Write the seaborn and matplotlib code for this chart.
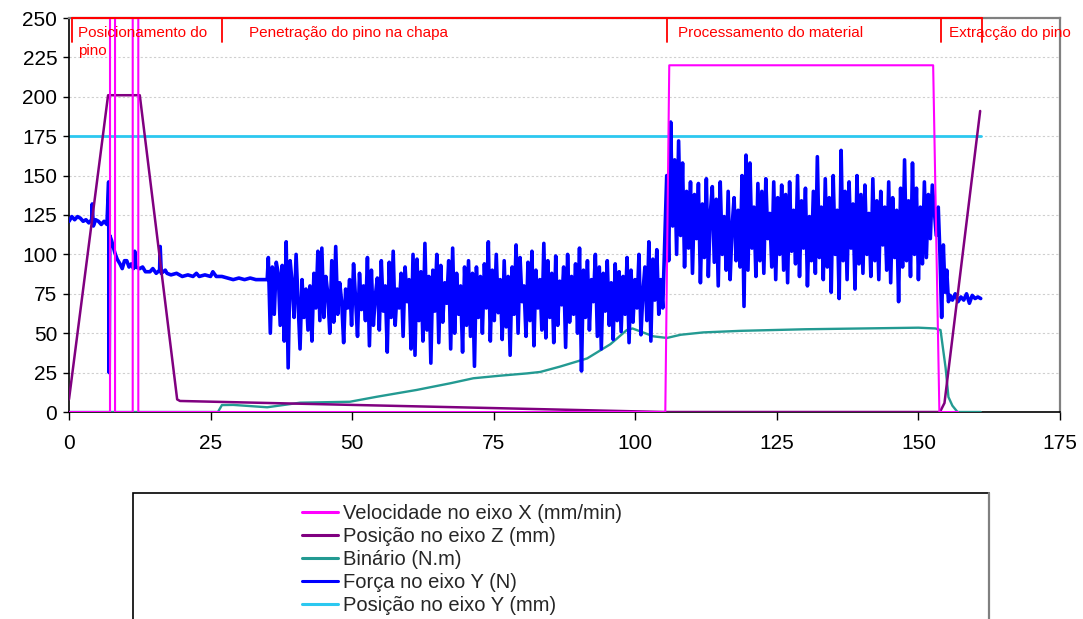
import numpy as np
import pandas as pd
import matplotlib
matplotlib.use("Agg")
import matplotlib.pyplot as plt
from matplotlib.patches import Rectangle
from matplotlib.lines import Line2D
import seaborn as sns

# ---------------- data ----------------
# Velocidade no eixo X (mm/min)
vel_t = [0, 7.24, 7.25, 8.12, 8.13, 11.25, 11.26, 12.23, 12.24, 105.3, 106.0, 152.6, 153.7, 157.0]
vel_v = [0, 0, 1000, 1000, 0, 0, 1000, 1000, 0, 0, 220, 220, 0, 0]

# Posição no eixo Z (mm)
posz_t = [0, 6.9, 12.5, 19.1, 19.6, 50, 76, 105, 153.8, 154.6, 160.9]
posz_v = [8, 201, 201, 8, 7, 4.5, 2.4, 0, 0, 5.7, 191]

# Binário (N.m)
bin_t = [0, 26.3, 27.0, 29.0, 35.0, 40.8, 49.6, 54.4, 61.4, 67.3, 71.4, 76.0, 80.9, 83.2,
         86.7, 91.5, 95.6, 98.5, 99.5, 101.0, 103.2, 105.6, 108.0, 112.0, 118.6, 130.0,
         150.0, 153.0, 153.9, 154.8, 155.3, 156.0, 156.9, 161.0]
bin_v = [0, 0, 4.4, 4.5, 3.0, 5.9, 6.5, 9.7, 14.0, 18.2, 21.4, 23.0, 24.5, 25.4,
         28.8, 34.0, 43.0, 52.0, 53.0, 51.0, 48.0, 47.0, 49.0, 50.5, 51.5, 52.5,
         53.5, 53.0, 52.0, 28.0, 9.5, 4.0, 0, 0]

# Força no eixo Y (N) - initial part
fy_a_t = [0, 0.5, 1, 1.5, 2, 2.5, 3, 3.5, 4, 4.1, 4.3, 4.7, 5.2, 5.7, 6.2, 6.7, 7.0, 7.1,
          7.2, 7.5, 8.1, 8.5, 9.0, 9.4, 9.8, 10.2, 10.6, 11.0, 11.4, 11.6, 11.8, 12.5, 13,
          13.5, 14.3, 14.8, 15.4, 16.0, 16.1, 16.3, 17, 17.3, 18, 19, 20, 21, 21.9, 22.5,
          23, 24, 25, 25.4, 26, 27, 28, 29, 30, 31, 32, 33, 34, 35]
fy_a_v = [121, 124, 122, 124, 123, 121, 122, 120, 122, 132, 118, 122, 121, 119, 121, 119, 146, 25,
          112, 109, 101, 97, 94, 91, 96, 96, 92, 94, 91, 102, 92, 91, 92,
          89, 89, 91, 88, 90, 105, 88, 90, 88, 87, 88, 86, 87, 86, 88,
          86, 87, 86, 89, 86, 86, 85, 84, 85, 84, 85, 84, 84, 84]

# Força no eixo Y (N) - penetration (samples every 0.35 s from 35.2)
fy_b_start, fy_b_step = 35.2, 0.35
fy_b_v = [98, 50, 92, 62, 95, 88, 55, 93, 45, 108, 28, 96, 82, 60, 100, 70, 40, 84, 60, 78,
          52, 80, 45, 88, 66, 102, 58, 104, 60, 86, 75, 50, 96, 57, 105, 62, 82, 70, 44, 78,
          66, 84, 55, 94, 72, 48, 88, 65, 80, 58, 98, 42, 90, 55, 74, 85, 52, 96, 64, 80,
          38, 95, 60, 102, 55, 78, 66, 88, 48, 92, 70, 84, 40, 100, 36, 97, 58, 89, 45, 107,
          52, 86, 31, 90, 64, 100, 44, 93, 57, 82, 69, 96, 40, 104, 50, 88, 62, 80, 38, 92,
          55, 96, 48, 88, 29, 92, 60, 86, 50, 94, 66, 108, 45, 90, 58, 100, 63, 84, 46, 96,
          54, 86, 36, 92, 62, 106, 50, 98, 70, 80, 48, 95, 58, 102, 42, 90, 66, 84, 52, 107,
          47, 96, 60, 88, 44, 99, 55, 83, 68, 92, 41, 100, 57, 86, 62, 94, 50, 104, 26, 90,
          60, 96, 52, 84, 70, 100, 48, 92, 40, 88, 64, 96, 55, 82, 46, 94, 58, 89, 51, 86,
          62, 98, 44, 90, 57, 84, 66, 100, 49, 76, 92, 58, 108, 45, 97, 71, 103, 62, 84, 66]

# Força no eixo Y (N) - processing (samples every 0.35 s from 105.55)
fy_c_start, fy_c_step = 105.55, 0.35
fy_c_v = [150, 96, 184, 118, 160, 100, 172, 112, 158, 92, 140, 104, 146, 88, 138, 110, 145, 82, 132, 98,
          148, 86, 126, 143, 95, 135, 80, 146, 100, 124, 90, 140, 84, 118, 136, 96, 128, 92, 150, 67,
          163, 90, 158, 104, 130, 86, 145, 96, 140, 88, 148, 110, 126, 92, 146, 84, 136, 100, 144, 90,
          138, 82, 146, 102, 128, 94, 150, 86, 134, 104, 142, 80, 124, 96, 140, 88, 162, 98, 130, 84,
          148, 92, 136, 76, 150, 100, 128, 72, 166, 96, 140, 84, 146, 104, 132, 78, 150, 94, 138, 88,
          144, 100, 126, 86, 148, 96, 134, 84, 140, 106, 130, 90, 146, 82, 136, 98, 128, 70, 142, 92,
          160, 96, 134, 86, 158, 100, 142, 84, 130, 94, 146, 98, 138, 110, 144, 128, 112]

# Força no eixo Y (N) - extraction
fy_d_t = [153.5, 153.8, 154.1, 154.4, 154.7, 155.0, 155.3, 155.6, 156.0, 156.5, 157.0, 157.5,
          158.0, 158.5, 159.0, 159.5, 160.0, 160.5, 161.0]
fy_d_v = [130, 100, 60, 106, 76, 90, 70, 74, 71, 75, 70, 73, 71, 75, 69, 74, 72, 73, 72]

# Posição no eixo Y (mm)
posy_t = [0, 161]
posy_v = [175, 175]

# phase annotations
phase_bounds = [0.5, 27.0, 105.6, 154.0, 161.3]
phase_labels = ["Posicionamento do\npino", "Penetração do pino na chapa",
                "Processamento do material", "Extracção do pino"]
phase_label_x = [1.6, 31.7, 107.5, 155.4]

x_ticks = [0, 25, 50, 75, 100, 125, 150, 175]
y_ticks = [0, 25, 50, 75, 100, 125, 150, 175, 200, 225, 250]

legend_labels = ["Velocidade no eixo X (mm/min)", "Posição no eixo Z (mm)", "Binário (N.m)",
                 "Força no eixo Y (N)", "Posição no eixo Y (mm)"]
colors = ["#FF00FF", "#800080", "#239A92", "#0000FF", "#2CC8F0"]

# build force series
fy_b_t = list(fy_b_start + fy_b_step * np.arange(len(fy_b_v)))
fy_c_t = list(fy_c_start + fy_c_step * np.arange(len(fy_c_v)))
force_t = fy_a_t + fy_b_t + fy_c_t + fy_d_t
force_v = fy_a_v + fy_b_v + fy_c_v + fy_d_v

# ---------------- plot ----------------
sns.set_style("white")
plt.rcParams["font.family"] = ["Liberation Sans", "DejaVu Sans"]

W, H = 1083, 619
fig = plt.figure(figsize=(W / 100, H / 100), dpi=100)
ax = fig.add_axes([69 / W, (H - 412) / H, (1060 - 69) / W, (412 - 18) / H])

sns.lineplot(x=posy_t, y=posy_v, ax=ax, color=colors[4], lw=2.0, sort=False,
             estimator=None, legend=False, zorder=2)
sns.lineplot(x=bin_t, y=bin_v, ax=ax, color=colors[2], lw=1.7, sort=False,
             estimator=None, legend=False, zorder=3)
sns.lineplot(x=force_t, y=force_v, ax=ax, color=colors[3], lw=2.6, sort=False,
             estimator=None, legend=False, zorder=4)
sns.lineplot(x=posz_t, y=posz_v, ax=ax, color=colors[1], lw=1.8, sort=False,
             estimator=None, legend=False, zorder=5)
sns.lineplot(x=vel_t, y=vel_v, ax=ax, color=colors[0], lw=1.5, sort=False,
             estimator=None, legend=False, zorder=6)

ax.set_xlim(0, 175)
ax.set_ylim(0, 250)
ax.set_xticks(x_ticks)
ax.set_yticks(y_ticks)
ax.set_xlabel("")
ax.set_ylabel("")
ax.tick_params(axis="x", direction="out", length=6, width=1, pad=10, labelsize=15,
               colors="black", bottom=True)
ax.tick_params(axis="y", direction="out", length=4.5, width=1, pad=4, labelsize=15,
               colors="black", left=True)
ax.yaxis.grid(True, color="#CFCFCF", linestyle=(0, (2, 2)), lw=0.8)
ax.xaxis.grid(False)
ax.set_axisbelow(True)
for s in ["left", "bottom"]:
    ax.spines[s].set_color("black")
    ax.spines[s].set_linewidth(1.2)
for s in ["top", "right"]:
    ax.spines[s].set_color("#808080")
    ax.spines[s].set_linewidth(1.6)

# phase annotations
red = "#FF0000"
ax.plot([phase_bounds[0], phase_bounds[-1]], [250, 250], color=red, lw=1.5,
        clip_on=False, zorder=7)
for b in phase_bounds:
    ax.plot([b, b], [250, 234.5], color=red, lw=1.3, clip_on=False, zorder=7)
line_step = 18 / 1.576  # one text line in data units
for lab, lx in zip(phase_labels, phase_label_x):
    for i, part in enumerate(lab.split("\n")):
        ax.text(lx, 238.1 - i * line_step, part, color=red, fontsize=11, va="baseline",
                ha="left", clip_on=False, zorder=7)

# legend box
rect = Rectangle((133 / W, -0.05), (989 - 133) / W, (H - 493) / H + 0.05,
                 transform=fig.transFigure, facecolor="white", edgecolor="black",
                 lw=1.2, clip_on=False)
fig.add_artist(rect)
fig.add_artist(Line2D([989 / W, 989 / W], [0, (H - 493) / H], transform=fig.transFigure,
                      color="#808080", lw=1.6))

handles = [Line2D([], [], color=c, lw=2.2) for c in colors]
fig.legend(handles, legend_labels, loc="upper left",
           bbox_to_anchor=(302 / W, 1 - 504 / H), frameon=False, borderpad=0,
           borderaxespad=0, handlelength=1.8, handletextpad=0.25, labelspacing=0.2,
           fontsize=14.5)

fig.savefig("out.png", dpi=100)
